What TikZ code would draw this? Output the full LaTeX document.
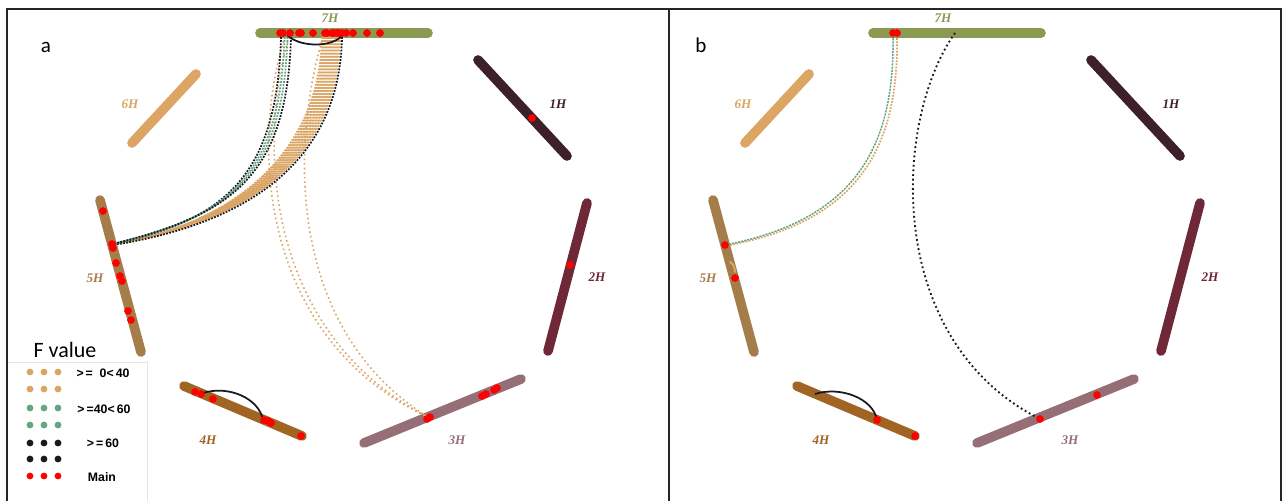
\documentclass[tikz,border=0pt]{standalone}
\usepackage{fontspec}
\setmainfont{Liberation Serif}
\newfontfamily\calfont{Carlito}
\newfontfamily\arialfont{Liberation Sans}
\usetikzlibrary{positioning}

\definecolor{col1}{RGB}{62,32,40}
\definecolor{col2}{RGB}{110,40,55}
\definecolor{col3}{RGB}{150,110,118}
\definecolor{col4}{RGB}{160,100,35}
\definecolor{col5}{RGB}{165,125,75}
\definecolor{col6}{RGB}{220,165,100}
\definecolor{col7}{RGB}{139,154,82}
\definecolor{lorange}{RGB}{218,165,100}
\definecolor{lgreen}{RGB}{100,165,130}
\definecolor{lblack}{RGB}{25,25,35}

% chromosomes shared by both panels
\newcommand{\barleychroms}{%
  \coordinate (c7s) at (260,33);  \coordinate (c7e) at (428,33);
  \coordinate (c1s) at (478,60);  \coordinate (c1e) at (567,156);
  \coordinate (c2s) at (587,203); \coordinate (c2e) at (548,351);
  \coordinate (c3s) at (364,443); \coordinate (c3e) at (521,379);
  \coordinate (c4s) at (184,386); \coordinate (c4e) at (302,436);
  \coordinate (c5s) at (100,200); \coordinate (c5e) at (141,352);
  \coordinate (c6s) at (132,143); \coordinate (c6e) at (196,74);
  \foreach \k in {1,...,7}
    \draw[chrom, draw=col\k] (c\k s) -- (c\k e);
  \node[chrlabel, text=col7] (l7) at (330,18)  {7H};
  \node[chrlabel, text=col1] (l1) at (558,104) {1H};
  \node[chrlabel, text=col2] (l2) at (597,277) {2H};
  \node[chrlabel, text=col3] (l3) at (457,440) {3H};
  \node[chrlabel, text=col4] (l4) at (208,440) {4H};
  \node[chrlabel, text=col5] (l5) at (95,278)  {5H};
  \node[chrlabel, text=col6] (l6) at (130,104) {6H};
}

\begin{document}
\begin{tikzpicture}[
  x=0.02cm, y=-0.02cm,
  chrom/.style   ={line width=5.5pt, line cap=round},
  chrlabel/.style={font=\fontsize{7.5}{8}\selectfont\itshape\bfseries, inner sep=0pt},
  hit/.style     ={circle, fill=red, inner sep=0pt, minimum size=4.4pt},
  keydot/.style  ={circle, inner sep=0pt, minimum size=3.9pt},
  link/.style    ={line width=1pt, dash pattern=on 1pt off 0.8pt},
  loose/.style   ={draw=lorange, line width=0.9pt, dash pattern=on 0.9pt off 1.7pt},
  gdash/.style   ={draw=lgreen, line width=0.85pt, dash pattern=on 1.2pt off 0.6pt},
  bdot/.style    ={draw=lblack, line width=1.05pt, dash pattern=on 1.05pt off 1.6pt},
  arc/.style     ={draw=lblack, line width=1pt},
  frame/.style   ={draw=black!85, line width=0.9pt},
  keytext/.style ={font=\arialfont\bfseries\fontsize{7}{8}\selectfont, inner sep=0pt}
]
\useasboundingbox (0,0) rectangle (1283,501);
% ---- frames ----------------------------------------------------------------
\draw[frame] (7,501) -- (7,9) -- (1281,9) -- (1281,501);
\draw[frame] (669,9) -- (669,501);
\draw[gray!20] (8,362) -| (147,501);
\node[font=\calfont\fontsize{12}{14}\selectfont, inner sep=0pt] (pa) at (46,47) {a};
\node[font=\calfont\fontsize{12}{14}\selectfont, inner sep=0pt] (pb) at (701,45) {b};

% ---- panel a ---------------------------------------------------------------
\begin{scope}[name prefix=a-]
  \barleychroms
  \coordinate (q7) at (281,37);
  \coordinate (r7) at (322,37);
  \coordinate (q5) at (113,244);
  \coordinate (q3) at (428,417);
  % 7H -> 3H
  \draw[loose] ([xshift=4*0.02cm]q7)  .. controls +(-35,108) and +(-168,-78) .. (q3);
  \draw[loose] ([xshift=8*0.02cm]q7)  .. controls +(-33,112) and +(-160,-82) .. (q3);
  \draw[loose] ([xshift=1*0.02cm]r7)  .. controls +(-33,110) and +(-140,-87) .. (q3);
  % 7H -> 5H, right bundle
  \foreach \o in {0,1.5,...,18}
    \draw[link, draw=lorange] ([xshift=\o*0.02cm]r7) .. controls +(-2,113) and +(124+\o*1.3,-20-\o*0.2) .. (q5);
  \draw[link, draw=lblack] ([xshift=20*0.02cm]r7) .. controls +(-2,113) and +(151,-24) .. ([yshift=-1*0.02cm]q5);
  % 7H -> 5H, left bundle
  \foreach \o/\c in {0/lblack,3.5/lgreen,6.5/lgreen,10/lblack}
    \draw[link, draw=\c] ([xshift=\o*0.02cm]q7) .. controls +(-4,143) and +(109+\o*0.6,-24-\o*0.5) .. (q5);
  % local arcs
  \coordinate (u7) at (287,35);  \coordinate (v7) at (342,36);
  \draw[arc] (u7) .. controls +(12,12) and +(-12,12) .. (v7);
  \coordinate (u4) at (203,393); \coordinate (v4) at (263,420);
  \draw[arc] (u4) .. controls +(25,-8) and +(-4,-22) .. (v4);
  % main hits
  \foreach \p [count=\i] in {280,283,290,299,301,313,325,327,332,334,337,339,342,346,353,367,380}
    \node[hit] (h7-\i) at (\p,33) {};
  \foreach \p [count=\i] in {(103,211),(112,244),(113,248),(116,263),(120,276),(122,281),(128,311),(131,320)}
    \node[hit] (h5-\i) at \p {};
  \foreach \p [count=\i] in {(195,392),(201,394),(213,399),(264,420),(268,421),(271,423),(301,436)}
    \node[hit] (h4-\i) at \p {};
  \foreach \p [count=\i] in {(427,419),(430,417),(482,396),(486,394),(494,390),(497,388)}
    \node[hit] (h3-\i) at \p {};
  \node[hit] (h1-1) at (532,118) {};
  \node[hit] (h2-1) at (570,265) {};
\end{scope}

% ---- panel b ---------------------------------------------------------------
\begin{scope}[xshift=613*0.02cm, name prefix=b-]
  \barleychroms
  \coordinate (q7) at (280,35);
  \coordinate (t7) at (342,33);
  \coordinate (q5) at (112,245);
  \coordinate (q3) at (427,419);
  \draw[link, draw=lorange] ([xshift=4*0.02cm]q7) .. controls +(2,115) and +(132,-24) .. ([yshift=-1*0.02cm]q5);
  \draw[gdash] (q7) .. controls +(2,115) and +(128,-25) .. (q5);
  \draw[bdot] (t7) .. controls +(-62,87) and +(-157,-79) .. (q3);
  \coordinate (u5) at (117,262);
  \draw[draw=lorange, line width=1.2pt, line cap=round] (u5) .. controls +(4,3) .. +(5,10);
  \coordinate (u4) at (202,394); \coordinate (v4) at (264,420);
  \draw[arc] (u4) .. controls +(25,-8) and +(-4,-22) .. (v4);
  \foreach \p [count=\i] in {(280,33),(284,33),(112,245),(122,278),(264,420),(302,436),(427,419),(484,395)}
    \node[hit] (hb-\i) at \p {};
\end{scope}

% ---- legend ----------------------------------------------------------------
\node[font=\calfont\fontsize{12.5}{14}\selectfont, inner sep=0pt] (ftitle) at (65,350) {F value};
\foreach \y/\c in {372/lorange,389/lorange,408/lgreen,425/lgreen,443/lblack,459/lblack,476/red}
  \foreach \x in {30,44,58}
    \node[keydot, fill=\c] (k\x-\y) at (\x,\y) {};
\node[keytext] (t1) at (103,373) {>\,=\ \ 0<\,40};
\node[keytext] (t2) at (104,409) {>\,=40<\,60};
\node[keytext] (t3) at (103,443) {>\,=\,60};
\node[keytext] (t4) at (102,477) {Main};
\end{tikzpicture}
\end{document}
